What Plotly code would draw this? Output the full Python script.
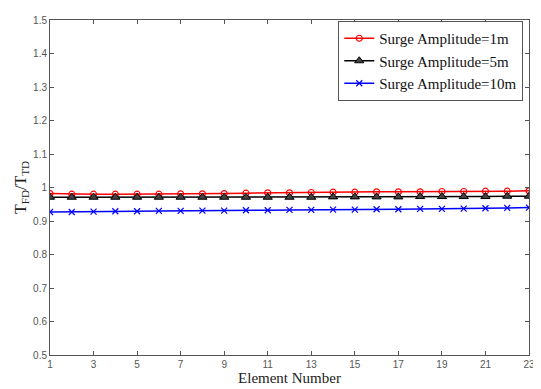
import plotly.graph_objects as go

element = list(range(1, 24))
amp_1m = [0.982, 0.980, 0.980, 0.980, 0.980, 0.980, 0.981, 0.981, 0.982, 0.983, 0.984, 0.984,
          0.985, 0.986, 0.986, 0.987, 0.987, 0.987, 0.988, 0.988, 0.989, 0.989, 0.990]
amp_5m = [0.971, 0.971, 0.971, 0.971, 0.971, 0.971, 0.971, 0.971, 0.971, 0.971, 0.971, 0.971,
          0.971, 0.972, 0.972, 0.972, 0.972, 0.973, 0.973, 0.973, 0.973, 0.974, 0.974]
amp_10m = [0.927, 0.927, 0.928, 0.929, 0.929, 0.930, 0.930, 0.931, 0.931, 0.932, 0.932, 0.933,
           0.933, 0.934, 0.934, 0.935, 0.935, 0.936, 0.936, 0.937, 0.938, 0.939, 0.940]
names = ["Surge Amplitude=1m", "Surge Amplitude=5m", "Surge Amplitude=10m"]
x_ticks = list(range(1, 24, 2))
y_ticks = [0.5, 0.6, 0.7, 0.8, 0.9, 1, 1.1, 1.2, 1.3, 1.4, 1.5]

fig = go.Figure()
fig.add_trace(go.Scatter(x=element, y=amp_1m, name=names[0], mode="lines+markers",
                         line=dict(color="red", width=1.5),
                         marker=dict(symbol="circle-open", size=6, color="red", line=dict(width=1.2))))
fig.add_trace(go.Scatter(x=element, y=amp_5m, name=names[1], mode="lines+markers",
                         line=dict(color="black", width=1.5),
                         marker=dict(symbol="triangle-up", size=8, color="#444444",
                                     line=dict(width=1, color="black"))))
fig.add_trace(go.Scatter(x=element, y=amp_10m, name=names[2], mode="lines+markers",
                         line=dict(color="blue", width=1.5),
                         marker=dict(symbol="x-thin-open", size=6, color="blue", line=dict(width=1.2, color="blue"))))

axis_common = dict(showgrid=False, zeroline=False, showline=True, linecolor="#555555", linewidth=1,
                   mirror="ticks", ticks="inside", ticklen=4, tickcolor="#555555",
                   tickfont=dict(family="Arial, Liberation Sans", size=10, color="#555555"))

# page body has an 8px margin; size the figure so the plot lands where the reference has it
fig.update_layout(
    width=533, height=381,
    margin=dict(l=42, r=6, t=7, b=32),
    paper_bgcolor="white", plot_bgcolor="white",
    xaxis=dict(range=[1, 23], tickvals=x_ticks,
               title=dict(text="Element Number", standoff=2,
                          font=dict(family="Liberation Serif, Times New Roman", size=15, color="#222222")),
               **axis_common),
    yaxis=dict(range=[0.5, 1.5], tickvals=y_ticks, ticktext=[f"{v:g}" for v in y_ticks],
               title=dict(text="T<sub>FD</sub>/T<sub>TD</sub>", standoff=2,
                          font=dict(family="Liberation Serif, Times New Roman", size=16, color="#222222")),
               **axis_common),
    legend=dict(x=0.988, y=0.997, xanchor="right", yanchor="top",
                bgcolor="white", bordercolor="#555555", borderwidth=1,
                font=dict(family="Liberation Serif, Times New Roman", size=15, color="#111111"),
                itemwidth=30, tracegroupgap=0),
    showlegend=True,
)

fig.write_html("out.html")
